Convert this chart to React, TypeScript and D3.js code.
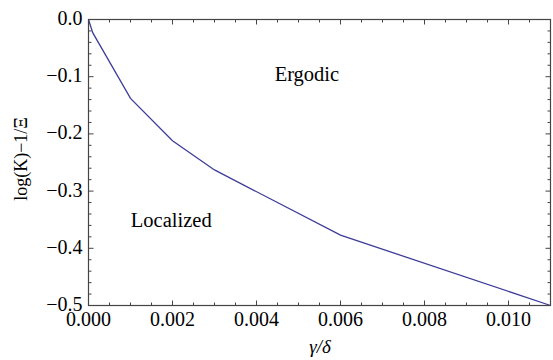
import React from 'react';
import * as d3 from 'd3';

// phase boundary between ergodic / localized
const gammaOverDelta = [0, 0.0001, 0.001, 0.002, 0.003, 0.006, 0.011];
const boundary = [0, -0.023, -0.138, -0.212, -0.263, -0.377, -0.5];

const xMajor = [0, 0.002, 0.004, 0.006, 0.008, 0.01];
const yMajor = [0, -0.1, -0.2, -0.3, -0.4, -0.5];

const W = 553;
const H = 360;
const margin = { top: 19.5, right: 2.5, bottom: 54.5, left: 88.5 };

const FONT = '"Liberation Serif", "DejaVu Serif", serif';

export default function App() {
  const x = d3.scaleLinear().domain([0, 0.011]).range([margin.left, W - margin.right]);
  const y = d3.scaleLinear().domain([-0.5, 0]).range([H - margin.bottom, margin.top]);

  const line = d3.line<number>()
    .x((_, i) => x(gammaOverDelta[i]))
    .y(d => y(d));

  const xMinor = d3.range(0, 0.01101, 0.0005);
  const yMinor = d3.range(-0.5, 0.0001, 0.02);
  const isMajorX = (v: number) => Math.abs(v / 0.002 - Math.round(v / 0.002)) < 1e-6;
  const isMajorY = (v: number) => Math.abs(v / 0.1 - Math.round(v / 0.1)) < 1e-6;

  const [x0, x1] = x.range();
  const [y0, y1] = [y(0), y(-0.5)];

  return (
    <svg width={W} height={H} style={{ position: 'absolute', left: 0, top: 0 }}
      fontFamily={FONT}>
      <rect width={W} height={H} fill="#fff" />

      {/* 刻度（四边朝内） */}
      <g stroke="#444" strokeWidth={1}>
        {xMinor.map(v => {
          const len = isMajorX(v) ? 5 : 3;
          return (
            <g key={'x' + v}>
              <line x1={x(v)} x2={x(v)} y1={y1} y2={y1 - len} />
              <line x1={x(v)} x2={x(v)} y1={y0} y2={y0 + len} />
            </g>
          );
        })}
        {yMinor.map(v => {
          const len = isMajorY(v) ? 5 : 3;
          return (
            <g key={'y' + v}>
              <line x1={x0} x2={x0 + len} y1={y(v)} y2={y(v)} />
              <line x1={x1} x2={x1 - len} y1={y(v)} y2={y(v)} />
            </g>
          );
        })}
      </g>

      <path d={line(boundary) ?? ''} fill="none" stroke="#3d3d99" strokeWidth={1.3} />

      <rect x={x0} y={y0} width={x1 - x0} height={y1 - y0}
        fill="none" stroke="#444" strokeWidth={1.2} />

      {/* 刻度标签 */}
      <g fontSize={20} fill="#000">
        {xMajor.map(v => (
          <text key={v} x={x(v)} y={y1 + 20} textAnchor="middle">{v.toFixed(3)}</text>
        ))}
        {yMajor.map(v => (
          <text key={v} x={x0 - 6} y={y(v) + 5.5} textAnchor="end">
            {v === 0 ? '0.0' : '\u2212' + Math.abs(v).toFixed(1)}
          </text>
        ))}
      </g>

      {/* 区域标注 */}
      <text x={x(0.0052)} y={y(-0.108)} fontSize={20.5} textAnchor="middle">Ergodic</text>
      <text x={x(0.00197)} y={y(-0.363)} fontSize={20.5} textAnchor="middle">Localized</text>

      {/* 坐标轴标题 */}
      <text x={320} y={353} fontSize={19} fontStyle="italic" textAnchor="middle">γ/δ</text>
      <text transform={`translate(27,159) rotate(-90)`} fontSize={18} textAnchor="middle">
        log(K)−1/Ξ
      </text>
    </svg>
  );
}
